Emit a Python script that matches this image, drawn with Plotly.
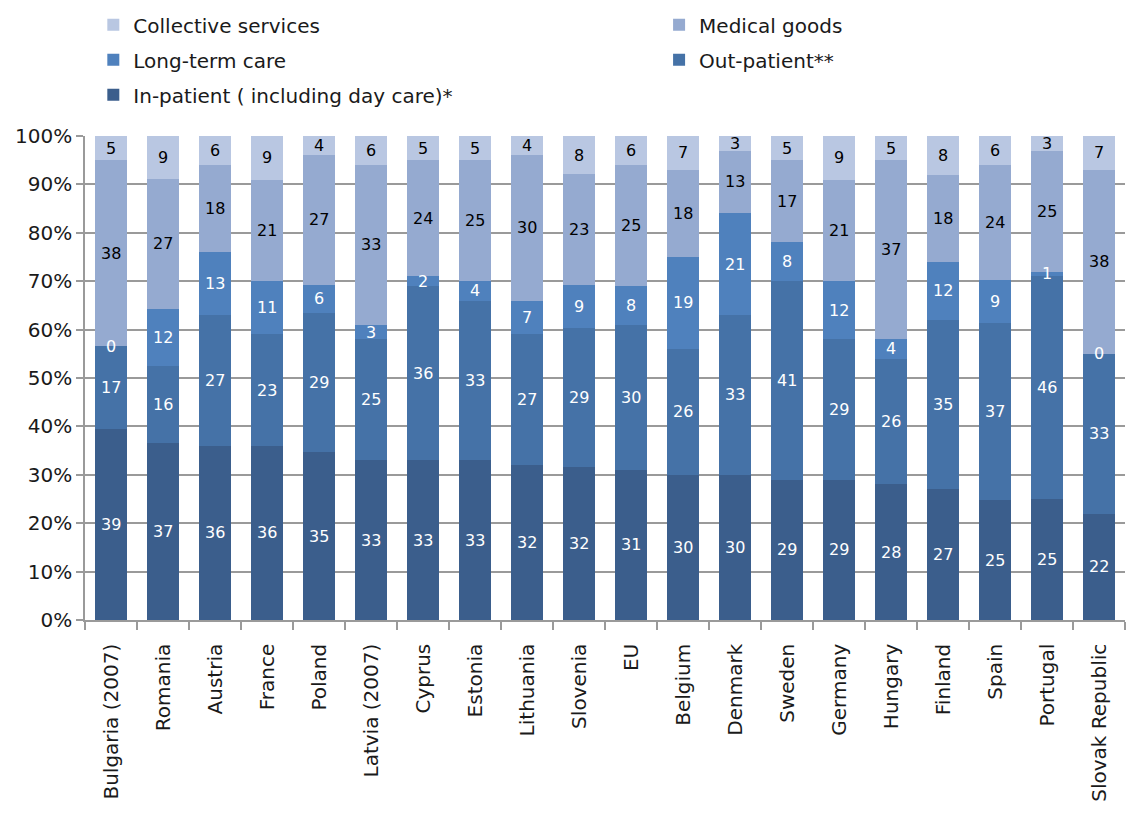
import plotly.graph_objects as go

countries = ["Bulgaria (2007)", "Romania", "Austria", "France", "Poland", "Latvia (2007)",
             "Cyprus", "Estonia", "Lithuania", "Slovenia", "EU", "Belgium", "Denmark",
             "Sweden", "Germany", "Hungary", "Finland", "Spain", "Portugal", "Slovak Republic"]

in_patient = [39, 37, 36, 36, 35, 33, 33, 33, 32, 32, 31, 30, 30, 29, 29, 28, 27, 25, 25, 22]
out_patient = [17, 16, 27, 23, 29, 25, 36, 33, 27, 29, 30, 26, 33, 41, 29, 26, 35, 37, 46, 33]
long_term_care = [0, 12, 13, 11, 6, 3, 2, 4, 7, 9, 8, 19, 21, 8, 12, 4, 12, 9, 1, 0]
medical_goods = [38, 27, 18, 21, 27, 33, 24, 25, 30, 23, 25, 18, 13, 17, 21, 37, 18, 24, 25, 38]
collective = [5, 9, 6, 9, 4, 6, 5, 5, 4, 8, 6, 7, 3, 5, 9, 5, 8, 6, 3, 7]

# (name, values, fill colour, label colour, legend box, rank within that box)
series = [
    ("In-patient ( including day care)*", in_patient, "#3B5E8C", "white", "legend", 3),
    ("Out-patient**", out_patient, "#4572A7", "white", "legend2", 2),
    ("Long-term care", long_term_care, "#4F81BD", "white", "legend", 2),
    ("Medical goods", medical_goods, "#95AAD0", "black", "legend2", 1),
    ("Collective services", collective, "#B9C7E2", "black", "legend", 1),
]

FONT = "'DejaVu Sans', sans-serif"
TEXT = "#1a1a1a"
GRID = "#9a9a9a"

# 100% stacked: each category normalised to its total
totals = [sum(s[1][i] for s in series) for i in range(len(countries))]

fig = go.Figure()
annotations = []
cum = [0.0] * len(countries)
for name, vals, color, tcolor, leg, rank in series:
    shares = [v / t * 100 for v, t in zip(vals, totals)]
    fig.add_trace(go.Bar(
        name=name, x=countries, y=shares, legend=leg, legendgroup=name, legendrank=rank,
        marker=dict(color=color, line=dict(width=0)), hoverinfo="skip",
    ))
    for i, (c, v, s) in enumerate(zip(countries, vals, shares)):
        annotations.append(dict(
            x=c, y=cum[i] + s / 2, xref="x", yref="y", text=str(v), showarrow=False,
            font=dict(family=FONT, size=16, color=tcolor),
        ))
        cum[i] += s

legend_common = dict(
    orientation="v", traceorder="grouped", tracegroupgap=6,
    yanchor="top", xanchor="left", bgcolor="rgba(0,0,0,0)",
    font=dict(family=FONT, size=20, color=TEXT), itemclick=False,
)

fig.update_layout(
    barmode="stack",
    bargap=0.38,
    width=1130, height=823,
    margin=dict(l=85, r=5, t=133, b=203),
    paper_bgcolor="white", plot_bgcolor="white",
    font=dict(family=FONT, color=TEXT),
    annotations=annotations,
    legend=dict(x=0.008, y=1.27, **legend_common),
    legend2=dict(x=0.552, y=1.27, **legend_common),
    showlegend=True,
)

fig.update_yaxes(
    range=[0, 100], tickvals=list(range(0, 101, 10)),
    ticktext=[f"{v}%" for v in range(0, 101, 10)],
    tickfont=dict(family=FONT, size=20, color=TEXT),
    showgrid=True, gridcolor=GRID, gridwidth=1.5,
    showline=True, linecolor=GRID, linewidth=1.5,
    ticks="outside", ticklen=7, tickcolor=GRID, tickwidth=1.5,
    zeroline=False,
)
fig.update_xaxes(
    tickangle=-90, tickfont=dict(family=FONT, size=20, color=TEXT),
    showline=True, linecolor=GRID, linewidth=1.5,
    ticks="outside", tickson="boundaries", ticklen=8, tickcolor=GRID, tickwidth=1.5,
    ticklabelstandoff=14,
    range=[-0.5, len(countries) - 0.5],
)

fig.write_html("out.html")
